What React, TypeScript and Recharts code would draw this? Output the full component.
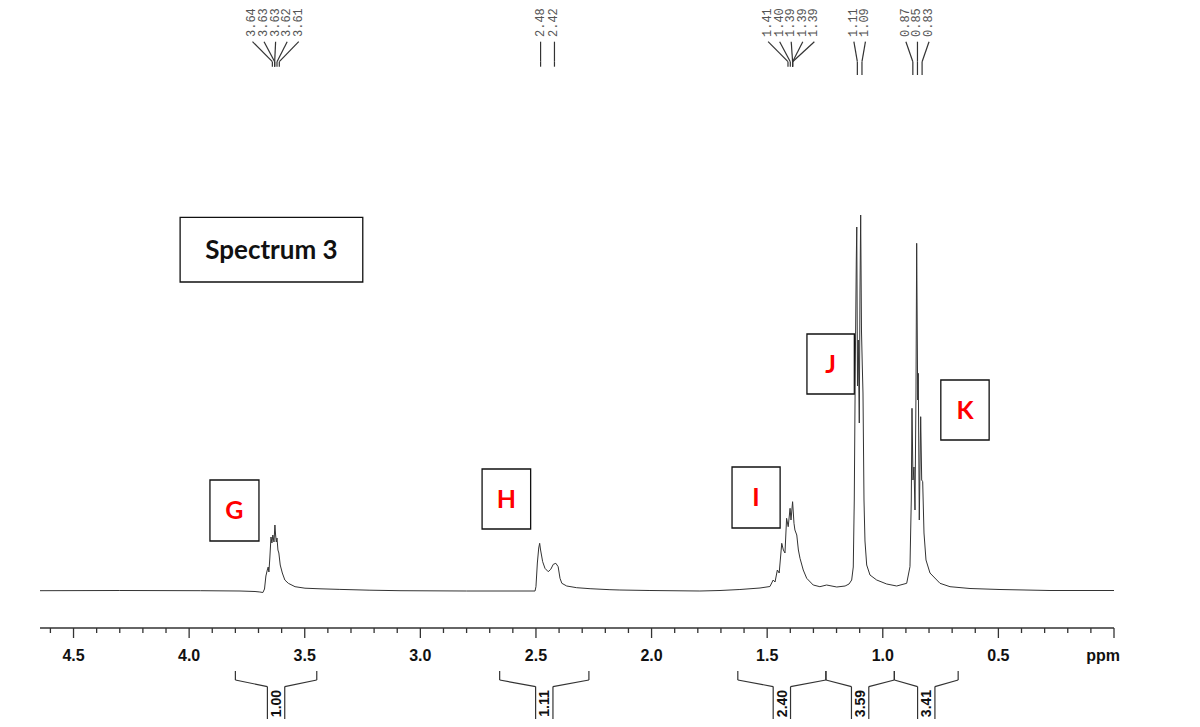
import React from 'react';
import {
  ComposedChart,
  Line,
  XAxis,
  YAxis,
  ReferenceLine,
  ReferenceArea,
  ReferenceDot,
} from 'recharts';

// ---- spectrum (chemical shift in ppm, intensity) ----
const baselineLeft: [number, number][] = [
  [4.645, 0.3], [4.3, 0.5], [3.95, 0.3], [3.78, 0], [3.715, -0.5], [3.694, -1],
];
const multipletG: [number, number][] = [
  [3.681, -1.5], [3.674, 2], [3.668, 15], [3.662, 21], [3.658, 24], [3.655, 19],
  [3.651, 33], [3.646, 54], [3.642, 48], [3.638, 56], [3.633, 49], [3.629, 66],
  [3.626, 56], [3.623, 49], [3.62, 53], [3.616, 41], [3.612, 38], [3.606, 26],
  [3.597, 18], [3.586, 11], [3.571, 7.7], [3.542, 4.3], [3.499, 2.8], [3.434, 2.2],
  [3.348, 1.6], [3.218, 0.8], [3.088, 0.3], [2.8, 0],
];
const multipletH: [number, number][] = [
  [2.504, 0], [2.5, 4.3], [2.494, 28], [2.488, 43], [2.484, 47.7], [2.48, 41],
  [2.471, 29.3], [2.461, 22.7], [2.447, 19.3], [2.436, 21.7], [2.425, 26.7],
  [2.414, 27.7], [2.404, 24.3], [2.396, 12.7], [2.388, 7.7], [2.367, 5],
  [2.324, 3.3], [2.266, 2.3], [2.18, 1.3], [2.137, 1], [2.007, 0.5], [1.791, 0],
];
const multipletI: [number, number][] = [
  [1.704, 0.5], [1.618, 1.5], [1.531, 3], [1.488, 4.5], [1.474, 11], [1.466, 9],
  [1.456, 21], [1.448, 18], [1.437, 47.7], [1.43, 41], [1.423, 38], [1.416, 72.7],
  [1.409, 64.3], [1.401, 82.7], [1.397, 71], [1.39, 89.3], [1.384, 67.7],
  [1.38, 61], [1.372, 56], [1.365, 41], [1.358, 32.7], [1.344, 21], [1.329, 12.7],
  [1.301, 6], [1.272, 4.3], [1.243, 6], [1.199, 4], [1.163, 5], [1.146, 7],
];
const doubletJ: [number, number][] = [
  [1.1345, 11], [1.1276, 24], [1.1233, 91], [1.1189, 224], [1.1146, 330],
  [1.1125, 364], [1.1094, 205], [1.106, 251], [1.1016, 168], [1.0986, 300],
  [1.0956, 376], [1.0921, 260], [1.0887, 226], [1.0856, 198], [1.0813, 91],
  [1.077, 50], [1.0696, 26], [1.0554, 16], [1.0264, 11], [0.9831, 7],
  [0.9399, 5], [0.8966, 7.7],
];
const tripletK: [number, number][] = [
  [0.8824, 24.3], [0.8767, 91], [0.8737, 182.7], [0.8694, 111], [0.8651, 124],
  [0.8607, 81], [0.8564, 200], [0.8534, 347.7], [0.849, 191], [0.8465, 217.7],
  [0.8421, 71], [0.8361, 174.3], [0.8317, 111], [0.8274, 109.3], [0.8218, 58],
  [0.8131, 31], [0.7958, 18], [0.7526, 7.7], [0.7093, 4.3], [0.6228, 2.5],
  [0.4931, 1.5], [0.2768, 0.5], [0, 0.5],
];

// ---- axis ticks ----
const majorTicks = [4.5, 4.0, 3.5, 3.0, 2.5, 2.0, 1.5, 1.0, 0.5, 0.0];
const minorTicks = [
  4.6, 4.4, 4.3, 4.2, 4.1, 3.9, 3.8, 3.7, 3.6, 3.4, 3.3, 3.2, 3.1, 2.9, 2.8, 2.7,
  2.6, 2.4, 2.3, 2.2, 2.1, 1.9, 1.8, 1.7, 1.6, 1.4, 1.3, 1.2, 1.1, 0.9, 0.8, 0.7,
  0.6, 0.4, 0.3, 0.2, 0.1,
];
const axisUnit = 'ppm';

// ---- peak picking labels ----
const peakLabelGroups: string[][] = [
  ['3.64', '3.63', '3.63', '3.62', '3.61'],
  ['2.48', '2.42'],
  ['1.41', '1.40', '1.39', '1.39', '1.39'],
  ['1.11', '1.09'],
  ['0.87', '0.85', '0.83'],
];

// ---- integrals (ppm ranges and values) ----
const integralRanges: [number, number][] = [
  [3.8, 3.448],
  [2.657, 2.271],
  [1.627, 1.246],
  [1.246, 0.95],
  [0.95, 0.674],
];
const integralValues = ['1.00', '1.11', '2.40', '3.59', '3.41'];

// ---- annotation boxes ----
const boxLabels = ['Spectrum 3', 'G', 'H', 'I', 'J', 'K'];
const boxRanges: [number, number, number, number][] = [
  [4.039, 3.249, 373.7, 309],
  [3.91, 3.698, 111, 50],
  [2.733, 2.523, 122, 62],
  [1.652, 1.444, 124, 63],
  [1.328, 1.123, 257, 197],
  [0.749, 0.54, 211, 151],
];

const spectrum = [
  ...baselineLeft, ...multipletG, ...multipletH, ...multipletI, ...doubletJ, ...tripletK,
].map(([ppm, intensity]) => ({ ppm, intensity }));

const allTicks = [...majorTicks, ...minorTicks].sort((a, b) => b - a);

// layout constants (intensity units = pixels above baseline)
const LABEL_GAP = 0.05;
const STEM_TOP = 549.3;
const STEM_KNEE = 529.3;
const stemBottoms = [524.3, 524.3, 524.3, 516, 516];
const LABEL_BASE = 554;
const BR_TOP = -80;
const BR_MID = -89;
const BR_INNER = -95.6;
const BR_BOTTOM = -128;
const BR_HALF = 0.0375;
const INT_LABEL_Y = -112.5;

function labelPositions(group: string[]): number[] {
  const vals = group.map(Number);
  const gaps = vals.slice(1).map((v, i) => vals[i] - v);
  const minGap = gaps.length ? Math.min(...gaps) : Infinity;
  if (minGap >= LABEL_GAP) return vals;
  const center = vals.reduce((a, b) => a + b, 0) / vals.length;
  return vals.map((_, i) => center + ((vals.length - 1) / 2 - i) * LABEL_GAP);
}

const AxisTick = (props: any) => {
  const { x, y, payload } = props;
  const v = payload.value as number;
  const isMajor = majorTicks.some((m) => Math.abs(m - v) < 1e-6);
  const isUnit = Math.abs(v) < 1e-6;
  return (
    <g>
      <line x1={x} x2={x} y1={y} y2={y + (isMajor ? 10 : 5)} stroke="#333" strokeWidth={1.3} />
      {isMajor && (
        <text
          x={isUnit ? x + 6 : x}
          y={y + 33}
          textAnchor={isUnit ? 'end' : 'middle'}
          fontFamily="Liberation Sans, Arial, sans-serif"
          fontWeight="bold"
          fontSize={16}
          fill="#111"
        >
          {isUnit ? axisUnit : v.toFixed(1)}
        </text>
      )}
    </g>
  );
};

const seg = (a: [number, number], b: [number, number], key: string) => (
  <ReferenceLine
    key={key}
    segment={[{ x: a[0], y: a[1] }, { x: b[0], y: b[1] }]}
    stroke="#333"
    strokeWidth={1.2}
    ifOverflow="visible"
  />
);

export default function App() {
  const peakElements: React.ReactNode[] = [];
  peakLabelGroups.forEach((group, gi) => {
    const labelPpm = labelPositions(group);
    group.forEach((txt, i) => {
      const peak = Number(txt);
      const lp = labelPpm[i];
      peakElements.push(seg([lp, STEM_TOP], [peak, STEM_KNEE], `pk-a-${gi}-${i}`));
      peakElements.push(seg([peak, STEM_KNEE], [peak, stemBottoms[gi]], `pk-b-${gi}-${i}`));
      peakElements.push(
        <ReferenceDot
          key={`pk-t-${gi}-${i}`}
          x={lp}
          y={LABEL_BASE}
          ifOverflow="visible"
          shape={(p: any) => (
            <text
              x={p.cx}
              y={p.cy}
              transform={`rotate(-90 ${p.cx} ${p.cy})`}
              textAnchor="start"
              dominantBaseline="central"
              fontFamily="Liberation Mono, monospace"
              fontSize={12}
              fill="#555"
            >
              {txt}
            </text>
          )}
        />
      );
    });
  });

  const integralElements: React.ReactNode[] = [];
  integralRanges.forEach(([from, to], i) => {
    const c = (from + to) / 2;
    const l = c + BR_HALF;
    const r = c - BR_HALF;
    integralElements.push(seg([from, BR_TOP], [from, BR_MID], `in-1-${i}`));
    integralElements.push(seg([from, BR_MID], [l, BR_INNER], `in-2-${i}`));
    integralElements.push(seg([l, BR_INNER], [l, BR_BOTTOM], `in-3-${i}`));
    integralElements.push(seg([r, BR_BOTTOM], [r, BR_INNER], `in-4-${i}`));
    integralElements.push(seg([r, BR_INNER], [to, BR_MID], `in-5-${i}`));
    integralElements.push(seg([to, BR_MID], [to, BR_TOP], `in-6-${i}`));
    integralElements.push(
      <ReferenceDot
        key={`in-t-${i}`}
        x={c}
        y={INT_LABEL_Y}
        ifOverflow="visible"
        shape={(p: any) => (
          <text
            x={p.cx}
            y={p.cy}
            transform={`rotate(-90 ${p.cx} ${p.cy})`}
            textAnchor="middle"
            dominantBaseline="central"
            fontFamily="Liberation Sans, Arial, sans-serif"
            fontWeight="bold"
            fontSize={14}
            fill="#111"
          >
            {integralValues[i]}
          </text>
        )}
      />
    );
  });

  return (
    <div style={{ position: 'absolute', left: 0, top: 0, width: 1200, height: 727, background: '#fff' }}>
      <ComposedChart
        width={1200}
        height={727}
        data={spectrum}
        margin={{ top: 178, right: 86, bottom: 0, left: 40 }}
      >
        <XAxis
          dataKey="ppm"
          type="number"
          domain={[0, 4.645]}
          reversed
          allowDataOverflow
          ticks={allTicks}
          interval={0}
          tickLine={false}
          tickSize={0}
          tickMargin={0}
          height={99}
          axisLine={{ stroke: '#333', strokeWidth: 1.5 }}
          tick={(p: any) => <AxisTick {...p} />}
        />
        <YAxis hide type="number" domain={[-37, 413]} allowDataOverflow />
        {boxRanges.map(([x1, x2, y1, y2], i) => (
          <ReferenceArea
            key={`box-${i}`}
            x1={x1}
            x2={x2}
            y1={y1}
            y2={y2}
            ifOverflow="visible"
            stroke="#111"
            strokeWidth={1.3}
            fill="#fff"
            fillOpacity={1}
            label={{
              value: boxLabels[i],
              position: 'center',
              fill: i === 0 ? '#111' : '#ff0000',
              fontSize: i === 0 ? 26 : 25,
              fontWeight: 'bold',
              fontFamily: 'Lato, Open Sans, sans-serif',
            }}
          />
        ))}
        <Line
          dataKey="intensity"
          type="linear"
          dot={false}
          activeDot={false}
          stroke="#333"
          strokeWidth={1}
          isAnimationActive={false}
        />
        {peakElements}
        {integralElements}
      </ComposedChart>
    </div>
  );
}
